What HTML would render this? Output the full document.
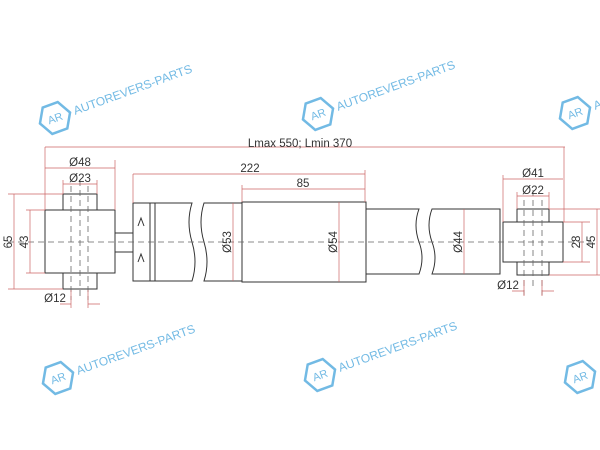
<!DOCTYPE html>
<html><head><style>body{margin:0;background:#fff}svg{display:block}</style></head><body>
<svg width="600" height="450" xmlns="http://www.w3.org/2000/svg" font-family="Liberation Sans, sans-serif">
<defs>
<g id="wm" opacity="0.85"><polygon points="-8,-14 8,-14 16,0 8,14 -8,14 -16,0" fill="none" stroke="#5aaee0" stroke-width="2.5"/><text x="0" y="4" font-size="11" fill="#5aaee0" text-anchor="middle">AR</text><text x="20" y="4" font-size="12" fill="#5aaee0">AUTOREVERS-PARTS</text></g>
</defs>
<g transform="translate(55,118) rotate(-20)"><use href="#wm"/></g>
<g transform="translate(318,114) rotate(-20)"><use href="#wm"/></g>
<g transform="translate(575,113) rotate(-20)"><use href="#wm"/></g>
<g transform="translate(58,378) rotate(-20)"><use href="#wm"/></g>
<g transform="translate(320,375) rotate(-20)"><use href="#wm"/></g>
<g transform="translate(580,377) rotate(-20)"><use href="#wm"/></g>
<g fill="none" stroke="#333" stroke-width="1">
<rect x="63" y="194" width="34" height="95" fill="#fff"/>
<rect x="45" y="210" width="70" height="63" fill="#fff"/>
<rect x="115" y="233" width="18" height="19"/>
<path d="M133,203 H192 Q186,222 192,242 Q198,262 192,281 H133 Z"/>
<path d="M150,203 V281 M155,203 V281 M138,226 L141,218 L144,226 M138,262 L141,254 L144,262"/>
<path d="M242,203 H204 Q198,222 204,242 Q210,262 204,281 H242"/>
<rect x="242" y="202" width="124" height="80"/>
<path d="M366,209 H419 Q413,225 419,242 Q425,258 419,274 H366"/>
<path d="M500,209 H432 Q426,225 432,242 Q438,258 432,274 H500 Z"/>
<rect x="517" y="209" width="32" height="66" fill="#fff"/>
<rect x="503" y="222" width="60" height="40" fill="#fff"/>
</g>
<g stroke="#666" stroke-width="0.8" stroke-dasharray="6,4" fill="none">
<path d="M8,242 H592"/>
<path d="M71,186 V300 M88,186 V300 M80,180 V300 M524,200 V295 M542,200 V295 M533,190 V290"/>
</g>
<g stroke="#c66" stroke-width="0.7" fill="none">
<path d="M45,147 H565 M45,147 V210 M564,147 V222"/>
<path d="M45,168 H115 M115,160 V210 M63,184 H97 M63,180 V194 M97,180 V194"/>
<path d="M8,194 H63 M8,289 H63 M14,194 V289 M26,210 H45 M26,273 H45 M30,210 V273"/>
<path d="M60,304 H71 M88,304 H100 M71,290 V308 M88,290 V308"/>
<path d="M133,174 H365 M133,174 V203 M365,170 V202 M242,189 H365 M242,185 V202"/>
<path d="M233,203 V281 M339,202 V282 M464,209 V274"/>
<path d="M503,179 H563 M503,175 V222 M517,196 H549 M517,192 V209 M549,192 V209"/>
<path d="M563,222 H590 M563,262 H590 M582,222 V262 M549,209 H600 M549,275 H600 M597,209 V275"/>
<path d="M512,291 H524 M542,291 H554 M524,280 V296 M542,280 V296"/>
</g>
<g font-size="11.5" fill="#333" text-anchor="middle">
<text x="300" y="147">Lmax 550; Lmin 370</text>
<text x="80" y="166">Ø48</text><text x="80" y="182">Ø23</text>
<text x="250" y="172">222</text><text x="303" y="187">85</text>
<text x="533" y="177">Ø41</text><text x="533" y="194">Ø22</text>
<text x="55" y="302">Ø12</text><text x="508" y="289">Ø12</text>
<text transform="translate(12,242) rotate(-90)">65</text>
<text transform="translate(28,242) rotate(-90)">43</text>
<text transform="translate(231,242) rotate(-90)">Ø53</text>
<text transform="translate(337,242) rotate(-90)">Ø54</text>
<text transform="translate(462,242) rotate(-90)">Ø44</text>
<text transform="translate(580,242) rotate(-90)">28</text>
<text transform="translate(595,242) rotate(-90)">45</text>
</g>
</svg>
</body></html>
